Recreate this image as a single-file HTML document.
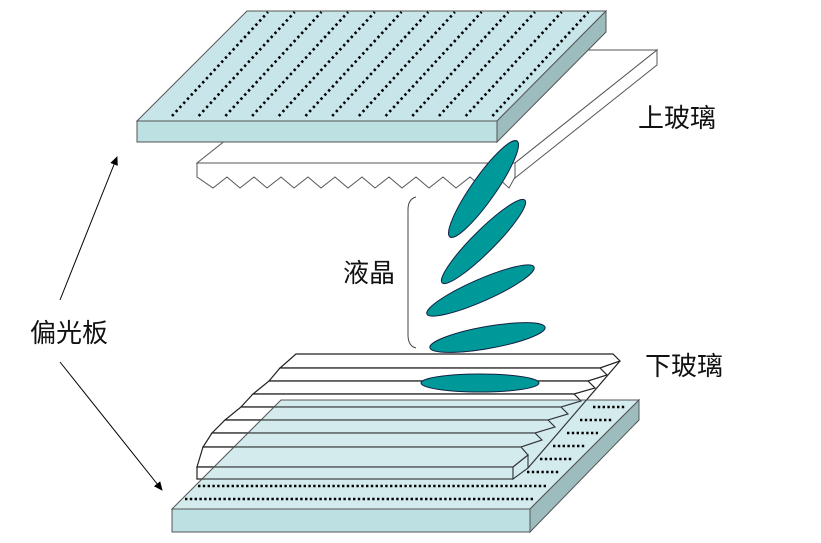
<!DOCTYPE html>
<html><head><meta charset="utf-8"><style>
html,body{margin:0;padding:0;background:#fff;}
svg{display:block;}
text{font-family:"Liberation Sans","Noto Sans CJK SC",sans-serif;font-size:26px;fill:#111;}
</style></head><body>
<svg width="821" height="543" viewBox="0 0 821 543" xmlns="http://www.w3.org/2000/svg">
<defs>
<clipPath id="tp"><polygon points="137,121 247,11 606,11 497,121"/></clipPath>
<clipPath id="bp"><polygon points="172,509 281,400 639,400 530,509"/></clipPath>
<marker id="ah" markerWidth="10" markerHeight="10" refX="8" refY="5" orient="auto" markerUnits="userSpaceOnUse"><path d="M0,1 L9,5 L0,9 z" fill="#000"/></marker>
<g id="strips">
<polygon points="296,354 613,354 620,361 600,368 280,368"/>
<polygon points="280,368 600,368 607,375 588,381 269,381"/>
<polygon points="269,381 588,381 595,388 574,394 253,394"/>
<polygon points="253,394 574,394 581,401 561,407 241,407"/>
<polygon points="241,407 561,407 568,414 548,420 225,420"/>
<polygon points="225,420 548,420 555,427 535,433 212,433"/>
<polygon points="212,433 535,433 542,440 521,447 203,447"/>
<polygon points="203,447 521,447 528,455 513,467 197,467"/>
<polygon points="197,467 513,467 513,479 197,479"/>
<polygon points="513,467 528,455 528,468 513,479"/>
<line x1="620" y1="361" x2="528" y2="468"/>
</g>
</defs>
<g stroke="#555" stroke-width="1">
<polygon points="197,163 339,50 657,50 515,163" fill="#fff"/>
<polygon points="515,163 657,50 657,65 515,178" fill="#fff"/>
<polygon points="197,163 515,163 515,177 509,188 497,177 483,188 470,177 456,188 443,177 429,188 416,177 402,188 389,177 375,188 362,177 348,188 335,177 321,188 308,177 294,188 281,177 267,188 254,177 240,188 227,177 213,188 197,177" fill="#fff"/>
<polygon points="137,121 247,11 606,11 497,121" fill="#c8e6e9"/>
<polygon points="137,121 497,121 497,142 137,142" fill="#bde0e3"/>
<polygon points="497,121 606,11 606,32 497,142" fill="#9dbcbe"/>
</g>
<g clip-path="url(#tp)" stroke="#000" stroke-width="2.6" stroke-dasharray="2.4 3.2">
<line x1="172" y1="116" x2="268" y2="12"/><line x1="198.7" y1="116" x2="294.7" y2="12"/><line x1="225.4" y1="116" x2="321.4" y2="12"/><line x1="252.1" y1="116" x2="348.1" y2="12"/><line x1="278.8" y1="116" x2="374.8" y2="12"/><line x1="305.5" y1="116" x2="401.5" y2="12"/><line x1="332.2" y1="116" x2="428.2" y2="12"/><line x1="358.9" y1="116" x2="454.9" y2="12"/><line x1="385.6" y1="116" x2="481.6" y2="12"/><line x1="412.3" y1="116" x2="508.3" y2="12"/><line x1="439" y1="116" x2="535" y2="12"/><line x1="465.7" y1="116" x2="561.7" y2="12"/><line x1="492.4" y1="116" x2="588.4" y2="12"/><line x1="519.1" y1="116" x2="615.1" y2="12"/>
</g>
<use href="#strips" stroke="#222" stroke-width="1.2" fill="#fff"/>
<g fill="#009999" stroke="#124" stroke-width="1">
<ellipse cx="483.5" cy="189" rx="58.5" ry="12" transform="rotate(-55 483.5 189)"/>
<ellipse cx="483.5" cy="241.5" rx="58.5" ry="11" transform="rotate(-45 483.5 241.5)"/>
<ellipse cx="480.5" cy="290.5" rx="58.5" ry="11" transform="rotate(-23.7 480.5 290.5)"/>
<ellipse cx="487.5" cy="337.5" rx="58.5" ry="11" transform="rotate(-10 487.5 337.5)"/>
<ellipse cx="480" cy="383" rx="59" ry="9"/>
</g>
<g stroke="#555" stroke-width="1">
<polygon points="172,509 281,400 639,400 530,509" fill="#b5dde1" fill-opacity="0.6"/>
<polygon points="172,509 530,509 530,532 172,532" fill="#bde0e3"/>
<polygon points="530,509 639,400 639,420 530,532" fill="#9dbcbe"/>
</g>
<use href="#strips" clip-path="url(#bp)" stroke="#333" stroke-width="1" fill="none"/>
<g stroke="#000" stroke-width="2.6" stroke-dasharray="2.4 2.4">
<line x1="198" y1="486" x2="546" y2="486"/><line x1="185" y1="499" x2="533" y2="499"/>
<line x1="593" y1="407" x2="625" y2="407"/><line x1="580" y1="420" x2="612" y2="420"/><line x1="567" y1="433" x2="598" y2="433"/><line x1="553" y1="446" x2="585" y2="446"/><line x1="540" y1="459" x2="572" y2="459"/><line x1="527" y1="472" x2="559" y2="472"/>
</g>
<path d="M416,197 Q408,199 408,210 L408,335 Q408,346 416,348" fill="none" stroke="#444" stroke-width="1"/>
<line x1="60" y1="300" x2="117" y2="157" stroke="#000" stroke-width="1" marker-end="url(#ah)"/>
<line x1="60" y1="362" x2="162" y2="490" stroke="#000" stroke-width="1" marker-end="url(#ah)"/>
<text x="638" y="127">上玻璃</text>
<text x="645" y="375">下玻璃</text>
<text x="343" y="282">液晶</text>
<text x="30" y="342">偏光板</text>
</svg>
</body></html>
